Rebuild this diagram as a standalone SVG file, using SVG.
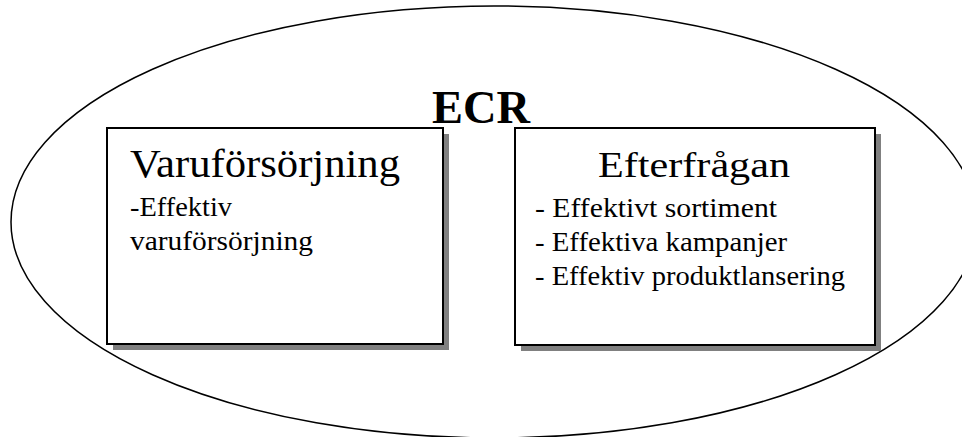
<svg xmlns="http://www.w3.org/2000/svg" width="962" height="437" viewBox="0 0 962 437">
  <style>
    .outline { fill: none; stroke: #000; stroke-width: 1.5; }
    .box { fill: #fff; stroke: #000; stroke-width: 2; }
    .shadow { fill: #808080; stroke: none; }
    .title { font-size: 40px; }
    .item { font-size: 27px; }
    .heading { font-size: 46px; font-weight: bold; }
  </style>
  <rect width="962" height="437" fill="#fff"/>

  <!-- ECR boundary -->
  <g id="ecr">
    <ellipse class="outline" cx="494" cy="222" rx="483" ry="216"/>
    <text class="heading" font-family="Liberation Serif, Times New Roman, serif" x="432" y="123" textLength="98" lengthAdjust="spacingAndGlyphs">ECR</text>
  </g>

  <!-- Supply side -->
  <g id="varuforsorjning" font-family="Liberation Serif, Times New Roman, serif">
    <rect class="shadow" x="113" y="134" width="336" height="216"/>
    <rect class="box" x="107" y="128" width="336" height="216"/>
    <text class="title" x="130" y="177" textLength="270" lengthAdjust="spacingAndGlyphs">Varuförsörjning</text>
    <text class="item" x="130" y="216" textLength="102" lengthAdjust="spacingAndGlyphs">-Effektiv</text>
    <text class="item" x="130" y="250" textLength="183" lengthAdjust="spacingAndGlyphs">varuförsörjning</text>
  </g>

  <!-- Demand side -->
  <g id="efterfragan" font-family="Liberation Serif, Times New Roman, serif">
    <rect class="shadow" x="521" y="134" width="360" height="217"/>
    <rect class="box" x="515" y="128" width="360" height="217"/>
    <text class="title" x="598" y="177" style="font-size:36px" textLength="192" lengthAdjust="spacingAndGlyphs">Efterfrågan</text>
    <text class="item" x="535" y="217" textLength="242" lengthAdjust="spacingAndGlyphs">- Effektivt sortiment</text>
    <text class="item" x="535" y="251" textLength="252" lengthAdjust="spacingAndGlyphs">- Effektiva kampanjer</text>
    <text class="item" x="535" y="285" textLength="310" lengthAdjust="spacingAndGlyphs">- Effektiv produktlansering</text>
  </g>

  <g id="connectors"/>
</svg>
